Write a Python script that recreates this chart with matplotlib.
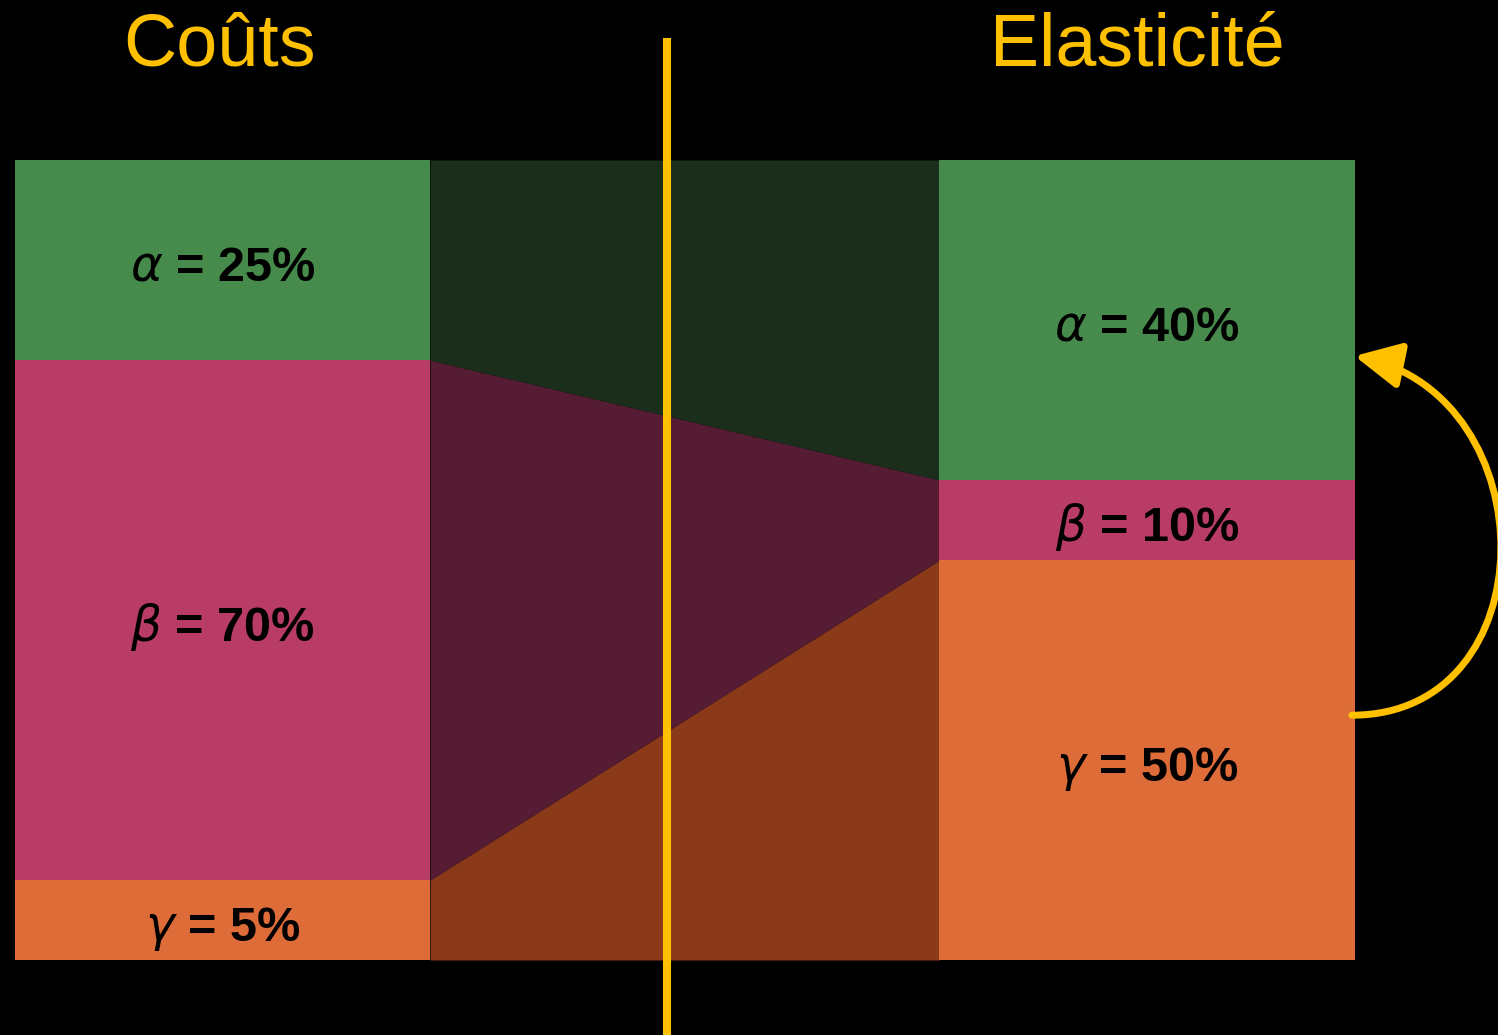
#!/usr/bin/env python3

import numpy as np
import matplotlib
matplotlib.use("Agg")
import matplotlib.pyplot as plt
from matplotlib.path import Path
from matplotlib.patches import FancyArrowPatch

plt.rcParams['font.family'] = ['Liberation Sans', 'DejaVu Sans']
plt.rcParams['mathtext.fontset'] = 'dejavusans'

categories = ["Coûts", "Elasticité"]
alpha_vals = [25, 40]
beta_vals = [65, 10]
gamma_vals = [10, 50]
alpha_labels = ["25%", "40%"]
beta_labels = ["70%", "10%"]
gamma_labels = ["5%", "50%"]

yellow = '#FFC000'
bar_colors = {'alpha': '#468B4C', 'beta': '#B93C67', 'gamma': '#DD6C38'}
link_colors = {'alpha': '#1A2E1B', 'beta': '#551C34', 'gamma': '#8A3A19'}

fig = plt.figure(figsize=(14.98, 10.35), dpi=100)
fig.patch.set_facecolor('black')
ax = fig.add_axes([0, 0, 1, 1])
ax.set_facecolor('black')
ax.set_xlim(-0.2407, 1.3796)
ax.set_ylim(-9.375, 120)
ax.axis('off')

x = np.arange(len(categories))
w = 0.449
gamma = np.array(gamma_vals, dtype=float)
beta = np.array(beta_vals, dtype=float)
alpha = np.array(alpha_vals, dtype=float)
b_beta = gamma
b_alpha = gamma + beta
top = gamma + beta + alpha

# links between the two stacks
xl = [w / 2, 1 - w / 2]
ax.fill_between(xl, 0, gamma, color=link_colors['gamma'], lw=0, zorder=1)
ax.fill_between(xl, b_beta, b_alpha, color=link_colors['beta'], lw=0, zorder=1)
ax.fill_between(xl, b_alpha, top, color=link_colors['alpha'], lw=0, zorder=1)

# stacked bars
ax.bar(x, gamma, w, color=bar_colors['gamma'], zorder=2)
ax.bar(x, beta, w, bottom=b_beta, color=bar_colors['beta'], zorder=2)
ax.bar(x, alpha, w, bottom=b_alpha, color=bar_colors['alpha'], zorder=2)

dy = 2.6
lab = dict(ha='center', va='baseline', fontsize=35, fontweight='bold', color='black', zorder=3)
for i in range(len(categories)):
    ax.text(x[i], b_alpha[i] + alpha[i] / 2 - dy, r"$\alpha$ = " + alpha_labels[i], **lab)
    ax.text(x[i], b_beta[i] + beta[i] / 2 - dy, r"$\beta$ = " + beta_labels[i], **lab)
    ax.text(x[i], gamma[i] / 2 - dy, r"$\gamma$ = " + gamma_labels[i], **lab)
    ax.text(x[i] - 0.003 - 0.008 * i, 111.75, categories[i], ha='center', va='baseline',
            fontsize=53, color=yellow, zorder=3)

# divider
ax.plot([0.4808, 0.4808], [115.25, -10], color=yellow, lw=5.8, zorder=4, solid_capstyle='butt')

# curved arrow gamma -> alpha on the right
x0 = 1 + w / 2 - 0.003
path = Path([(x0, 30.6), (x0 + 0.213, 30.6), (x0 + 0.213, 70.5), (x0 + 0.003, 75.5)],
            [Path.MOVETO, Path.CURVE4, Path.CURVE4, Path.CURVE4])
arrow = FancyArrowPatch(path=path, arrowstyle='-|>,head_length=0.35,head_width=0.175',
                        mutation_scale=80, color=yellow, lw=5, zorder=4, clip_on=False)
ax.add_patch(arrow)

plt.savefig("out.png", dpi=100, facecolor='black')
